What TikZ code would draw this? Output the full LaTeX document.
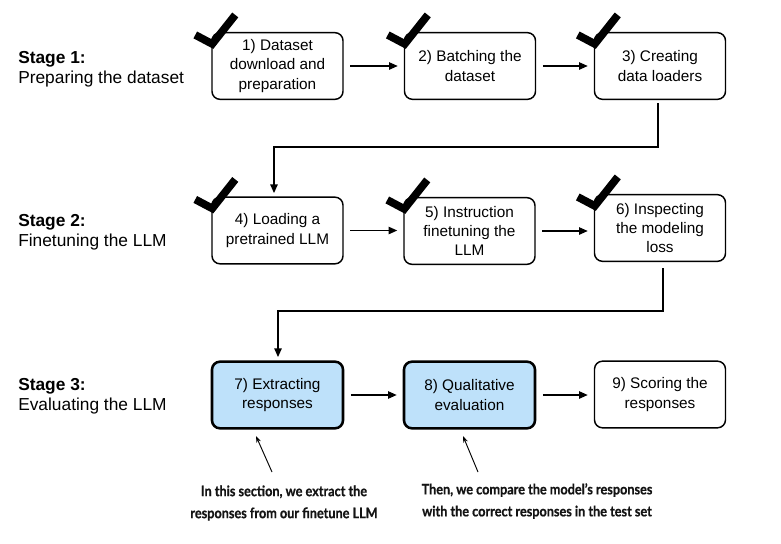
\documentclass[tikz,border=0pt]{standalone}
\usepackage{fontspec}
\setmainfont{Liberation Sans}
\newfontfamily\annfont{Lato}[FakeStretch=0.88, BoldFeatures={FakeBold=0.7}]
\usetikzlibrary{arrows.meta}
\definecolor{boxblue}{RGB}{190,225,250}
\definecolor{anntext}{RGB}{20,20,20}
\begin{document}
\begin{tikzpicture}[x=0.75pt,y=-0.75pt,
  stepbox/.style={draw, line width=1.1pt, rounded corners=6pt, minimum width=98.25pt,
    minimum height=50pt, align=center, inner sep=0pt,
    font=\fontsize{11.5}{14.3}\selectfont},
  hlbox/.style={stepbox, fill=boxblue, line width=1.9pt},
  flow/.style={line width=1.1pt, -{Triangle[length=6.5pt,width=5.5pt]}},
  hflow/.style={flow, shorten <=5pt, shorten >=4.5pt},
  check/.style={line width=5.8pt},
  stagelab/.style={anchor=west, align=left, inner sep=0pt,
    font=\fontsize{13}{15}\selectfont},
  anntxt/.style={align=center, inner sep=0pt, text=anntext,
    font=\annfont\bfseries\fontsize{10.8}{16.5}\selectfont},
  ann/.style={line width=0.7pt, -{Stealth[length=5pt,width=3.5pt]}}
]
\useasboundingbox (0,0) rectangle (781,543);
\fill[white] (0,0) rectangle (781,543);

% stage labels
\node[stagelab] (s1) at (18,69) {\textbf{Stage 1:}\\Preparing the dataset};
\node[stagelab] (s2) at (18,232) {\textbf{Stage 2:}\\Finetuning the LLM};
\node[stagelab] (s3) at (18,396) {\textbf{Stage 3:}\\Evaluating the LLM};

% boxes
\node[stepbox] (b1) at (277.5,66) {1) Dataset\\download and\\preparation};
\node[stepbox] (b2) at (470,66) {2) Batching the\\dataset};
\node[stepbox] (b3) at (660,66) {3) Creating\\data loaders};
\node[stepbox] (b4) at (277.5,230.5) {4) Loading a\\pretrained LLM};
\node[stepbox] (b5) at (469.5,231) {5) Instruction\\finetuning the\\LLM};
\node[stepbox] (b6) at (660,228) {6) Inspecting\\the modeling\\loss};
\node[hlbox] (b7) at (277.5,395) {7) Extracting\\responses};
\node[hlbox] (b8) at (469.5,395) {8) Qualitative\\evaluation};
\node[stepbox] (b9) at (660,394.5) {9) Scoring the\\responses};

% check marks
\foreach \b in {b1,b2,b3,b4,b5,b6}{
  \draw[check] ([xshift=-12pt,yshift=-2.25pt]\b.north west) -- ([xshift=0.75pt,yshift=-9pt]\b.north west) -- ([xshift=18pt,yshift=12.75pt]\b.north west);
}

% connectors
\draw[hflow] (b1.east) -- (b1.east -| b2.west);
\draw[hflow] (b2.east) -- (b2.east -| b3.west);
\draw[hflow] (b4.east) -- (b4.east -| b5.west);
\draw[hflow] (b5.east) -- (b5.east -| b6.west);
\draw[hflow] (b7.east) -- (b7.east -| b8.west);
\draw[hflow] (b8.east) -- (b8.east -| b9.west);

\coordinate (c1) at (658,147);
\coordinate (c2) at (274,0);
\draw[flow, shorten <=2.5pt, shorten >=2.5pt] (b3.south -| c1) -- (c1) -| (b4.north -| c2);
\coordinate (c3) at (663,311);
\coordinate (c4) at (278,0);
\draw[flow, shorten <=4.5pt, shorten >=2.5pt] (b6.south -| c3) -- (c3) -| (b7.north -| c4);

% annotations
\node[anntxt] (n1) at (284,503) {In this section, we extract the\\responses from our finetune LLM};
\node[anntxt] (n2) at (537,501) {Then, we compare the model’s responses\\with the correct responses in the test set};
\coordinate (a1) at (272,472);
\coordinate (e1) at (256,436);
\coordinate (a2) at (478,472);
\coordinate (e2) at (463,436);
\draw[ann] (a1) -- (e1);
\draw[ann] (a2) -- (e2);
\end{tikzpicture}
\end{document}
